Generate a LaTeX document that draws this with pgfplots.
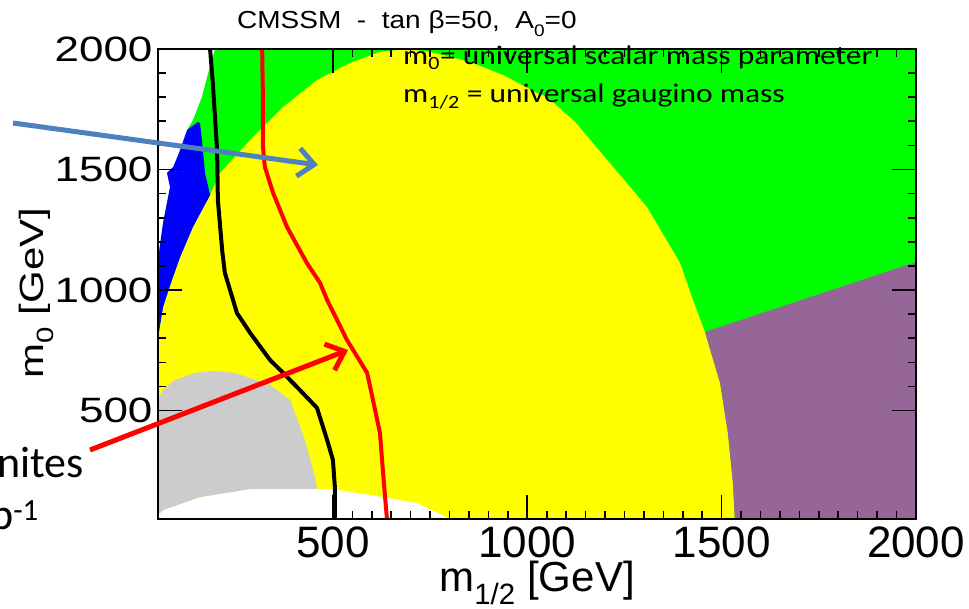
\documentclass[border=0pt]{standalone}
\usepackage{fontspec}
\setmainfont{Liberation Sans}
\newfontfamily\calibri{Carlito}
\usepackage{pgfplots}
\pgfplotsset{compat=1.18}
\usetikzlibrary{arrows.meta}
\definecolor{rgreen}{RGB}{0,255,0}
\definecolor{ryellow}{RGB}{255,255,0}
\definecolor{rblue}{RGB}{0,0,255}
\definecolor{rgrey}{RGB}{204,204,204}
\definecolor{rpurple}{RGB}{151,102,152}
\definecolor{arrowblue}{RGB}{79,129,189}
\definecolor{rred}{RGB}{255,0,0}
\newcommand{\sq}[1]{\scalebox{1}[0.8]{#1}}
\begin{document}
\begin{tikzpicture}
\begin{axis}[
  width=758pt, height=470pt, scale only axis,
  xmin=50, xmax=2000, ymin=50, ymax=2000,
  xtick={500,1000,1500,2000}, ytick={500,1000,1500,2000},
  xticklabels={500,1000,1500,2000},
  yticklabels={\sq{500},\sq{1000},\sq{1500},\sq{2000}},
  minor x tick num=9, minor y tick num=4,
  axis on top,
  axis line style={line width=2pt},
  tick style={black, line width=1.6pt},
  major tick length=24pt, minor tick length=8pt,
  ticklabel style={font=\fontsize{44}{50}\selectfont},
  xticklabel style={yshift=-4pt},
  yticklabel style={xshift=-2pt},
  label style={font=\fontsize{42}{48}\selectfont},
  xlabel={m\textsubscript{1/2} [GeV]},
  ylabel={\sq{m\textsubscript{0} [GeV]}},
  xlabel style={at={(axis description cs:0.5,0)}, anchor=south, yshift=-89pt},
  ylabel style={at={(axis description cs:-0.16,0.48)}, anchor=center},
]
% green region
\addplot[fill=rgreen, draw=none] coordinates {
 (197,2000) (2000,2000) (2000,50) (50,50) (50,1125) (63,1278) (81,1427)
 (107,1581) (125,1664) (140,1705) (163,1801) (179,1900)};
% yellow region
\addplot[fill=ryellow, draw=none] coordinates {
 (184,1394) (210,1486) (287,1622) (372,1759) (459,1871) (544,1942) (621,1988)
 (690,2000) (750,1988) (853,1946) (938,1892) (1025,1817) (1051,1801) (1123,1697)
 (1221,1510) (1308,1344) (1393,1112) (1426,959) (1457,826) (1496,614) (1516,407)
 (1529,199) (1534,50) (50,50) (50,801) (63,930) (86,1042) (107,1137) (140,1262)};
% blue region
\addplot[fill=rblue, draw=none] coordinates {
 (153,1697) (158,1693) (163,1622) (171,1486) (184,1394) (140,1262) (107,1137)
 (86,1042) (63,930) (50,801) (50,1125) (63,1278) (81,1427) (73,1486) (89,1510)
 (107,1581) (125,1664)};
% purple region
\addplot[fill=rpurple, draw=none] coordinates {
 (1457,826) (2000,1116) (2000,50) (1534,50) (1529,199) (1516,407) (1496,614)};
% white strip at the bottom
\addplot[fill=white, draw=none] coordinates {
 (50,50) (50,67) (63,87) (158,141) (287,174) (459,174) (500,174) (629,141)
 (716,116) (802,50)};
% grey region
\addplot[fill=rgrey, draw=none] coordinates {
 (50,544) (63,585) (94,627) (145,656) (191,664) (248,656) (287,635) (338,606)
 (390,544) (428,378) (454,224) (459,174) (287,174) (158,141) (63,87) (50,67)};
% black contour
\addplot[black, line width=4pt, line join=round] coordinates {
 (184,2000) (191,1859) (202,1581) (204,1374) (215,1166) (222,1071) (243,959)
 (253,905) (287,822) (338,710) (372,656) (415,585) (459,511) (485,378)
 (500,295) (505,183) (505,50)};
% red contour
\addplot[rred, line width=4pt, line join=round] coordinates {
 (318,2000) (320,1788) (320,1593) (325,1510) (346,1403) (382,1261) (433,1112)
 (467,1029) (485,959) (536,793) (588,656) (603,544) (621,407) (629,241) (639,50)};
\end{axis}
\begin{scope}[shift={(-158pt,-90pt)}]
% title
\node[anchor=base west, inner sep=0pt, yscale=0.88] at (237pt,580pt)
  {\fontsize{28}{30}\selectfont CMSSM\ \ -\ \ tan β=50,\ \ A\raisebox{-9pt}{\fontsize{19}{19}\selectfont 0}=0};
% annotations
\node[anchor=base west, inner sep=0pt, yscale=0.85] at (403pt,544pt)
  {\calibri\fontsize{31.5}{34}\selectfont m\textsubscript{0}= universal scalar mass parameter};
\node[anchor=base west, inner sep=0pt, yscale=0.85] at (403pt,506pt)
  {\calibri\fontsize{31.5}{34}\selectfont m\textsubscript{1/2} = universal gaugino mass};
\node[anchor=base west, inner sep=0pt] at (-3pt,131pt)
  {\calibri\fontsize{44}{48}\selectfont nites};
\node[anchor=base west, inner sep=0pt] at (-10pt,79pt)
  {\calibri\fontsize{44}{48}\selectfont b\textsuperscript{-1}};
% arrows
\draw[arrowblue, line width=5pt, -{Straight Barb[length=16pt,width=28pt]}] (13pt,486pt) -- (318pt,444pt);
\draw[rred, line width=5pt, -{Straight Barb[length=16pt,width=28pt]}] (90pt,159pt) -- (348pt,259pt);
\pgfresetboundingbox
\useasboundingbox (0pt,0pt) rectangle (969pt,609pt);
\end{scope}
\end{tikzpicture}
\end{document}
